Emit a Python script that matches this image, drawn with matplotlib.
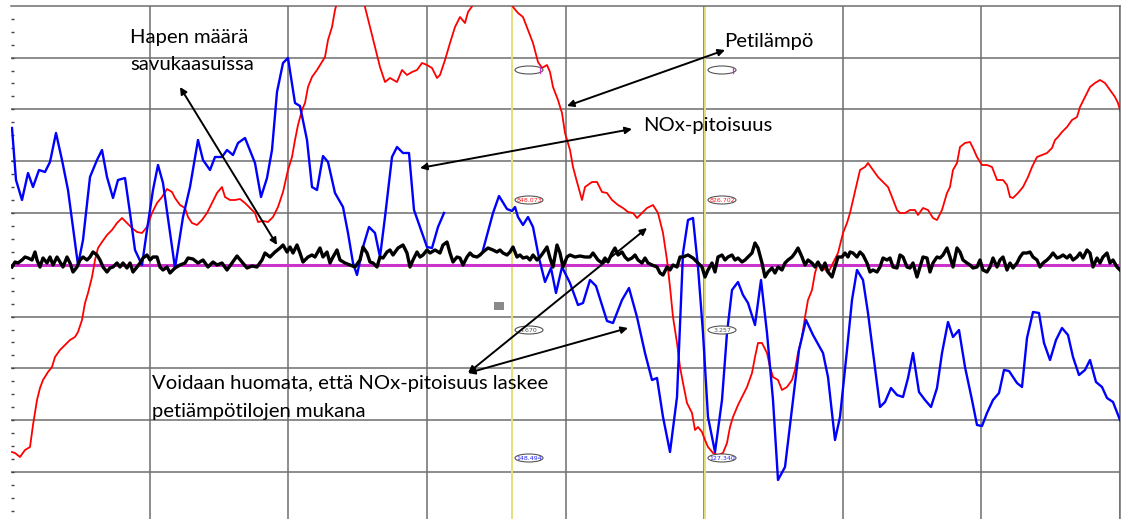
import matplotlib
matplotlib.use("Agg")
import matplotlib.pyplot as plt
import numpy as np
from matplotlib.patches import Ellipse, Rectangle

plt.rcParams['font.family'] = ['Lato', 'DejaVu Sans']

# time axis in seconds, values in trend-scale units (0 = bottom, 513 = top of window)
nox_t = [1, 5, 11, 17, 22, 28, 34, 39, 45, 51, 57, 67, 72, 79, 86, 91, 96, 102, 107, 114,
         119, 124, 131, 136, 142, 147, 152, 159, 164, 172, 179, 187, 192, 199, 204, 211, 216,
         222, 227, 234, 244, 250, 256, 261, 266, 272, 277, 284, 289, 296, 301, 306, 312, 317,
         324, 332, 337, 342, 346, 352, 358, 364, 369, 374, 381, 386, 392, 398, 403, 409, 416,
         421, 427, 433, 450,
         472, 482, 488, 496, 501, 504, 507, 512, 517, 522, 528, 534, 540, 545, 551, 559, 567,
         572, 579, 585, 596, 602, 611, 618, 626, 634, 641, 646, 652, 659, 666, 672, 677, 682,
         687, 692, 697, 704, 711, 716, 721, 727, 732, 737, 744, 750, 756, 762, 767, 774, 782,
         788, 795, 802, 812, 817, 824, 829, 836, 841, 846, 852, 857, 863, 869, 874, 880, 886,
         892, 897, 902, 908, 914, 920, 926, 931, 937, 942, 948, 954, 961, 966, 971, 976, 982,
         988, 993, 998, 1006, 1011, 1016, 1022, 1028, 1033, 1039, 1045, 1051, 1057, 1062, 1068,
         1074, 1079, 1085, 1091, 1096, 1102, 1109]
nox_val = [391, 339, 319, 346, 332, 349, 347, 357, 386, 359, 329, 254, 279, 342, 359, 369, 342,
           321, 339, 341, 306, 269, 254, 289, 329, 354, 336, 286, 251, 302, 332, 379, 359, 349,
           362, 362, 369, 364, 376, 381, 356, 322, 341, 369, 427, 456, 461, 416, 413, 379, 332,
           329, 363, 357, 326, 312, 286, 256, 244, 272, 292, 286, 262, 302, 362, 372, 366, 366,
           309, 292, 272, 271, 292, 306, np.nan,
           269, 306, 323, 310, 308, 312, 302, 294, 302, 292, 261, 237, 251, 226, 252, 236, 214,
           216, 239, 233, 198, 196, 219, 231, 202, 166, 139, 141, 102, 67, 122, 266, 299, 301,
           252, 186, 102, 67, 119, 186, 229, 237, 224, 216, 194, 239, 186, 119, 39, 52, 119,
           169, 199, 184, 166, 142, 79, 102, 169, 219, 249, 239, 206, 159, 112, 117, 131, 124,
           122, 141, 166, 127, 119, 112, 131, 166, 197, 182, 189, 152, 119, 94, 93, 106, 119,
           126, 149, 148, 136, 132, 181, 207, 206, 176, 159, 179, 191, 184, 162, 144,
           149, 159, 137, 132, 121, 117, 99]

temp_t = [1, 4, 9, 14, 19, 22, 26, 29, 32, 37, 41, 44, 49, 54, 59, 64, 67, 71, 74, 77, 81, 84,
          87, 91, 96, 101, 106, 111, 116, 121, 126, 131, 136, 141, 146, 151, 156, 161, 164, 169,
          174, 177, 181, 186, 191, 196, 201, 206, 211, 214, 219, 224, 229, 234, 239, 244, 247,
          252, 257, 262, 267, 272, 277, 281, 284, 287, 291, 294, 297, 301, 306, 311, 314, 317,
          321, 324, 326, 334, 344, 351, 354, 359, 364, 369, 374, 379, 386, 391, 396, 401, 406,
          411, 416, 421, 426, 429, 434, 439, 444, 449, 454, 457, 462, 470, 480, 490, 498, 502,
          507, 512, 517, 522, 527, 531, 536, 539, 542, 547, 551, 554, 559, 562, 566, 571, 574,
          581, 586, 591, 596, 601, 607, 612, 617, 622, 626, 631, 636, 642, 647, 652, 656, 659,
          662, 666, 669, 672, 676, 681, 684, 687, 691, 694, 697, 702, 707, 712, 716, 719, 722,
          727, 732, 736, 741, 744, 747, 751, 756, 759, 762, 767, 771, 776, 781, 784, 787, 791,
          794, 797, 801, 804, 807, 812, 817, 822, 827, 832, 836, 839, 842, 846, 849, 854, 857,
          862, 867, 872, 877, 881, 886, 889, 894, 899, 904, 907, 912, 917, 922, 926, 931, 936,
          939, 942, 946, 949, 954, 959, 962, 966, 971, 976, 981, 986, 992, 996, 999, 1002, 1007,
          1012, 1017, 1021, 1026, 1031, 1036, 1041, 1044, 1047, 1051, 1056, 1061, 1066, 1069,
          1074, 1079, 1084, 1089, 1094, 1099, 1104, 1107, 1110]
temp_val = [67, 66, 62, 69, 72, 94, 119, 131, 139, 147, 152, 162, 169, 174, 179, 182, 187, 199,
            216, 226, 242, 259, 271, 277, 284, 289, 296, 301, 296, 291, 287, 286, 292, 306, 316,
            322, 330, 327, 321, 314, 311, 302, 296, 294, 299, 306, 316, 326, 332, 322, 319, 319,
            320, 316, 311, 306, 297, 298, 297, 302, 312, 327, 349, 362, 379, 394, 409, 416, 432,
            442, 449, 457, 462, 479, 492, 509, 516, 535, 540, 530, 512, 492, 472, 452, 437, 441,
            437, 449, 444, 447, 449, 456, 454, 451, 441, 444, 459, 476, 492, 502, 496, 507, 514,
            530, 545, 540, 525, 512, 506, 502, 489, 476, 457, 451, 454, 447, 432, 419, 406, 386,
            369, 352, 337, 319, 332, 337, 337, 327, 326, 319, 314, 311, 307, 306, 301, 306, 311,
            314, 306, 286, 259, 232, 202, 176, 152, 136, 116, 106, 89, 92, 87, 79, 72, 66, 64,
            66, 76, 92, 102, 114, 124, 132, 146, 162, 176, 176, 166, 152, 142, 139, 129, 132,
            139, 149, 166, 182, 202, 219, 229, 246, 256, 252, 246, 256, 266, 286, 296, 306, 319,
            336, 349, 352, 356, 349, 342, 337, 332, 322, 309, 306, 306, 309, 309, 304, 311, 309,
            301, 299, 309, 326, 332, 349, 356, 372, 376, 377, 371, 362, 354, 354, 352, 339, 339,
            334, 322, 321, 326, 332, 342, 352, 362, 364, 366, 371, 379, 382, 387, 392, 399, 402,
            412, 422, 432, 436, 439, 436, 429, 422, 416, 406]

o2_t = [1, 4, 7, 11, 14, 17, 21, 24, 26, 29, 32, 36, 39, 42, 46, 49, 52, 56, 59, 62, 66, 69,
        72, 76, 79, 82, 86, 89, 92, 96, 99, 102, 106, 109, 112, 116, 119, 122, 126, 129, 132,
        136, 139, 142, 146, 149, 152, 156, 159, 164, 169, 174, 177, 182, 187, 192, 197, 202,
        206, 211, 216, 221, 226, 231, 236, 241, 246, 251, 254, 259, 264, 269, 272, 276, 279,
        282, 286, 289, 292, 297, 301, 304, 309, 312, 316, 319, 322, 326, 329, 334, 339, 344,
        349, 352, 356, 359, 362, 366, 369, 372, 376, 379, 382, 387, 392, 396, 399, 402, 406,
        409, 412, 416, 419, 424, 429, 432, 436, 439, 442, 446, 449, 452, 456, 459, 462, 466,
        469, 472, 477, 482, 486, 489, 492, 496, 499, 502, 506, 509, 512, 516, 519, 522, 526,
        529, 532, 536, 539, 542, 546, 549, 552, 556, 559, 564, 569, 574, 579, 582, 587, 591,
        594, 597, 601, 604, 607, 611, 614, 617, 621, 624, 627, 631, 634, 637, 641, 646, 649,
        652, 656, 659, 662, 666, 669, 672, 677, 682, 687, 691, 694, 697, 701, 704, 707, 711,
        714, 717, 721, 724, 727, 731, 734, 737, 741, 744, 747, 751, 754, 757, 761, 764, 767,
        771, 774, 777, 781, 784, 787, 791, 794, 797, 801, 804, 807, 811, 814, 817, 821, 824,
        827, 831, 834, 837, 839, 842, 846, 849, 852, 856, 859, 862, 866, 869, 872, 876, 879,
        882, 886, 889, 892, 896, 899, 902, 906, 909, 912, 916, 919, 922, 926, 929, 932, 936,
        939, 942, 946, 949, 952, 956, 959, 962, 966, 969, 972, 976, 979, 982, 986, 989, 992,
        996, 999, 1002, 1006, 1009, 1012, 1016, 1019, 1022, 1026, 1029, 1032, 1036, 1039,
        1042, 1046, 1049, 1052, 1056, 1059, 1062, 1066, 1069, 1072, 1076, 1079, 1082, 1086,
        1089, 1092, 1096, 1099, 1102, 1106, 1109]
o2_val = [252, 257, 256, 259, 262, 261, 259, 267, 259, 252, 261, 256, 262, 254, 262, 257, 252,
          262, 256, 247, 252, 259, 262, 259, 262, 267, 264, 259, 252, 247, 251, 252, 256, 252,
          256, 251, 256, 247, 252, 256, 261, 264, 259, 262, 262, 252, 249, 252, 246, 251, 254,
          256, 261, 260, 256, 259, 252, 257, 254, 256, 249, 256, 263, 257, 251, 253, 252, 259,
          266, 262, 267, 271, 274, 267, 272, 266, 274, 266, 257, 262, 264, 262, 271, 262, 267,
          256, 262, 269, 259, 256, 254, 252, 259, 272, 266, 257, 256, 252, 262, 261, 267, 269,
          264, 271, 274, 266, 252, 259, 267, 262, 264, 269, 266, 269, 266, 274, 277, 266, 257,
          262, 261, 254, 262, 266, 263, 262, 264, 267, 271, 269, 267, 269, 266, 264, 267, 272,
          262, 264, 261, 262, 259, 264, 259, 262, 266, 272, 261, 252, 274, 266, 252, 262, 264,
          262, 263, 262, 262, 266, 259, 256, 261, 257, 266, 271, 264, 267, 262, 259, 261, 264,
          259, 256, 261, 256, 254, 252, 246, 244, 252, 249, 254, 252, 262, 262, 264, 261, 256,
          252, 242, 249, 256, 247, 262, 264, 259, 262, 264, 259, 261, 257, 259, 262, 266, 276,
          271, 256, 242, 247, 251, 246, 252, 249, 256, 259, 262, 266, 271, 262, 254, 259, 256,
          252, 257, 249, 256, 247, 242, 252, 262, 262, 266, 262, 267, 266, 262, 267, 264, 256,
          247, 249, 247, 252, 261, 259, 261, 252, 251, 264, 262, 252, 251, 256, 242, 252, 262,
          261, 247, 256, 262, 261, 264, 271, 262, 252, 271, 267, 259, 256, 254, 251, 252, 259,
          249, 247, 252, 261, 252, 259, 262, 249, 256, 251, 256, 262, 266, 266, 267, 262, 259,
          252, 256, 259, 262, 266, 261, 262, 264, 261, 264, 259, 262, 266, 261, 269, 266, 252,
          261, 256, 262, 266, 256, 259, 252, 249]

# cursor readouts at the two yellow cursors
cursor_t = [501, 694]
cursor_temp = ['848.073', '826.702']
cursor_o2 = ['4.670', '3.257']
cursor_nox = ['148.494', '127.340']

x_max = 1109
y_max = 513.2
div_x = x_max / 8
div_y = 51.8

fig = plt.figure(figsize=(11.21, 5.19), dpi=100)
ax = fig.add_axes([11 / 1121, 0, 1109 / 1121, y_max / 519])
ax.set_xlim(0, x_max)
ax.set_ylim(0, y_max)

for k in range(1, 9):
    ax.axvline(k * div_x, color='#6e6e6e', lw=1.1, zorder=1)
for k in range(1, 10):
    ax.axhline(y_max - k * div_y, color='#6e6e6e', lw=1.1, zorder=1)

for c in cursor_t:
    ax.axvline(c, color='#e3e07a', lw=1.4, zorder=2)

ax.axhline(y_max - 5 * div_y, color='#cc33cc', lw=2.2, zorder=3)

ax.plot(temp_t, temp_val, color='#ff0000', lw=1.3, zorder=4)
ax.plot(nox_t, nox_val, color='#0000ff', lw=1.7, zorder=5)
ax.plot(o2_t, o2_val, color='black', lw=2.4, zorder=6)

# cursor value ovals
for i, c in enumerate(cursor_t):
    cx = c + 17
    for yy, txt, col in [(449, '', 'black'), (319, cursor_temp[i], '#ff2020'),
                         (189, cursor_o2[i], '#555555'), (61, cursor_nox[i], '#2020ff')]:
        ax.add_patch(Ellipse((cx, yy), 28, 8, facecolor='white', edgecolor='#555555',
                             lw=0.8, zorder=7))
        if txt:
            ax.text(cx, yy, txt, fontsize=4.5, color=col, ha='center', va='center',
                    family='DejaVu Sans', zorder=8)
    ax.plot([cx + 11, cx + 11], [446, 452], color='#cc33cc', lw=0.9, zorder=8)

ax.add_patch(Rectangle((483, 209), 10, 8, facecolor='#8a8a8a', edgecolor='none', zorder=7))

# annotations
fs = 14.6
ax.text(119, 482, 'Hapen määrä', fontsize=fs, va='center', zorder=9)
ax.text(119, 454, 'savukaasuissa', fontsize=fs, va='center', zorder=9)
ax.text(713, 477, 'Petilämpö', fontsize=fs, va='center', zorder=9)
ax.text(632, 394, 'NOx-pitoisuus', fontsize=fs, va='center', zorder=9)
ax.text(141, 136, 'Voidaan huomata, että NOx-pitoisuus laskee', fontsize=fs, va='center', zorder=9)
ax.text(141, 108, 'petiämpötilojen mukana', fontsize=fs, va='center', zorder=9)

arrows = [((169, 432), (266, 274)), ((556, 413), (714, 469)), ((409, 351), (621, 390)),
          ((457, 146), (636, 291)), ((457, 146), (617, 191))]
for a, b in arrows:
    ax.annotate('', xy=b, xytext=a,
                arrowprops=dict(arrowstyle='<|-|>', color='black', lw=1.4,
                                mutation_scale=10, shrinkA=0, shrinkB=0), zorder=9)

for s in ['left', 'bottom']:
    ax.spines[s].set_visible(False)
for s in ['top', 'right']:
    ax.spines[s].set_color('#6e6e6e')
    ax.spines[s].set_linewidth(1.1)

ax.set_xticks([])
ax.set_yticks([])
ax.set_yticks(np.arange(y_max - div_y / 4, 0, -div_y / 4), minor=True)
ax.tick_params(axis='y', which='minor', length=2.5, width=1, color='#444444',
               direction='in', left=True, labelleft=False)

fig.savefig('out.png', dpi=100)
